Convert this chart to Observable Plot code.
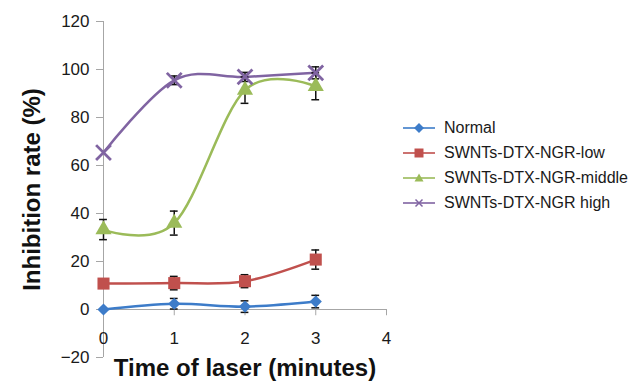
<!DOCTYPE html>
<html>
<head>
<meta charset="utf-8">
<script src="https://cdn.jsdelivr.net/npm/d3@7"></script>
<script src="https://cdn.jsdelivr.net/npm/@observablehq/plot@0.6"></script>
<style>
  html, body { margin: 0; padding: 0; background: #fff; }
  #wrap { position: relative; width: 633px; height: 382px; font-family: Arial, "Liberation Sans", sans-serif; }
  #legend { position: absolute; left: 403px; top: 115.5px; }
  .row { display: flex; align-items: center; height: 25px; }
  .row span { margin-left: 9px; font-size: 16px; color: #1a1a1a; white-space: nowrap; }
</style>
</head>
<body>
<div id="wrap"><div id="legend"></div></div>
<script>
const times = [0, 1, 2, 3];
const seriesNames = ["Normal", "SWNTs-DTX-NGR-low", "SWNTs-DTX-NGR-middle", "SWNTs-DTX-NGR high"];
const seriesColors = ["#3d7cc9", "#c0504d", "#9bbb59", "#8064a2"];
const normal = [0, 2.4, 1.2, 3.3];
const normalErr = [0, 2.2, 2.4, 2.6];
const low = [10.8, 11.0, 11.8, 20.8];
const lowErr = [0, 2.8, 2.7, 4.0];
const middle = [33.3, 36, 91.4, 93];
const middleErr = [4.2, 5, 5.5, 5.6];
const high = [65.4, 95.5, 96.9, 98.6];
const highErr = [0, 1.8, 1.9, 2.5];
const yTicks = [-20, 0, 20, 40, 60, 80, 100, 120];
const xTicks = [0, 1, 2, 3, 4];

const values = [normal, low, middle, high];
const errs = [normalErr, lowErr, middleErr, highErr];
const symbols = ["diamond2", "square", "triangle", "times"];
const sizes = [5.5, 6.8, 6.0, 6.8];

const data = [];
seriesNames.forEach((s, i) => times.forEach((t, j) => data.push({
  series: s, idx: i, x: t, y: values[i][j], e: errs[i][j]
})));
const errData = data.filter(d => d.e > 0);

const font = "Arial, 'Liberation Sans', sans-serif";
const marks = [
  Plot.ruleX([0], {y1: -20, y2: 120, stroke: "#a6a6a6", strokeWidth: 1}),
  Plot.ruleY([0], {x1: 0, x2: 4, stroke: "#a6a6a6", strokeWidth: 1}),
  Plot.ruleX(xTicks, {x: d => d, y1: 0, y2: -2.6, stroke: "#a6a6a6"}),
  Plot.axisY({ticks: yTicks, label: null, tickSize: 7, tickPadding: 7, fontSize: 17, stroke: "#a6a6a6", fill: "#1a1a1a", tickFormat: d => d < 0 ? "\u221220" : String(d)}),
  Plot.text(xTicks, {x: d => d, y: 0, dy: 29, text: d => String(d), fontSize: 17, fill: "#1a1a1a"}),
];
seriesNames.forEach((s, i) => {
  marks.push(Plot.line(data.filter(d => d.idx === i), {x: "x", y: "y", stroke: seriesColors[i], strokeWidth: 2.5, curve: "cardinal"}));
});
marks.push(Plot.ruleX(errData, {x: "x", y1: d => d.y - d.e, y2: d => d.y + d.e, stroke: "#111", strokeWidth: 1.5}));
marks.push(Plot.ruleY(errData, {y: d => d.y + d.e, x1: d => d.x - 0.055, x2: d => d.x + 0.055, stroke: "#111", strokeWidth: 1.5}));
marks.push(Plot.ruleY(errData, {y: d => d.y - d.e, x1: d => d.x - 0.055, x2: d => d.x + 0.055, stroke: "#111", strokeWidth: 1.5}));
seriesNames.forEach((s, i) => {
  const sub = data.filter(d => d.idx === i);
  if (symbols[i] === "times") {
    marks.push(Plot.dot(sub, {x: "x", y: "y", symbol: "times", r: sizes[i], stroke: seriesColors[i], strokeWidth: 2.8}));
  } else {
    marks.push(Plot.dot(sub, {x: "x", y: "y", symbol: symbols[i], r: sizes[i], fill: seriesColors[i], stroke: "none"}));
  }
});
marks.push(Plot.text(["Inhibition rate (%)"], {frameAnchor: "left", textAnchor: "middle", lineAnchor: "middle", dx: -71, rotate: -90, text: d => d, fontSize: 24, fontWeight: "bold", fill: "#111"}));
marks.push(Plot.text(["Time of laser (minutes)"], {frameAnchor: "bottom", textAnchor: "middle", lineAnchor: "middle", dy: 11, text: d => d, fontSize: 24, fontWeight: "bold", fill: "#111"}));

const chart = Plot.plot({
  width: 633,
  height: 382,
  marginLeft: 103,
  marginRight: 247,
  marginTop: 21,
  marginBottom: 25,
  style: {fontFamily: font, background: "#fff", overflow: "visible"},
  x: {domain: [0, 4], axis: null},
  y: {domain: [-20, 120], axis: null},
  marks
});
const wrap = document.getElementById("wrap");
wrap.insertBefore(chart, wrap.firstChild);

const legend = document.getElementById("legend");
const symPaths = {
  diamond2: "M16,2 L21,7 L16,12 L11,7 Z",
  square: "M11.5,2.5 H20.5 V11.5 H11.5 Z",
  triangle: "M16,2.5 L20.5,10.5 H11.5 Z",
  times: "M12.5,3.5 L19.5,10.5 M19.5,3.5 L12.5,10.5"
};
seriesNames.forEach((s, i) => {
  const row = document.createElement("div");
  row.className = "row";
  const c = seriesColors[i];
  const p = symbols[i] === "times"
    ? `<path d="${symPaths.times}" stroke="${c}" stroke-width="1.5" fill="none"/>`
    : `<path d="${symPaths[symbols[i]]}" fill="${c}"/>`;
  row.innerHTML = `<svg width="32" height="14" viewBox="0 0 32 14"><line x1="0" y1="7" x2="32" y2="7" stroke="${c}" stroke-width="2" opacity="0.8"/>${p}</svg><span></span>`;
  row.querySelector("span").textContent = s;
  legend.appendChild(row);
});
</script>
</body>
</html>
